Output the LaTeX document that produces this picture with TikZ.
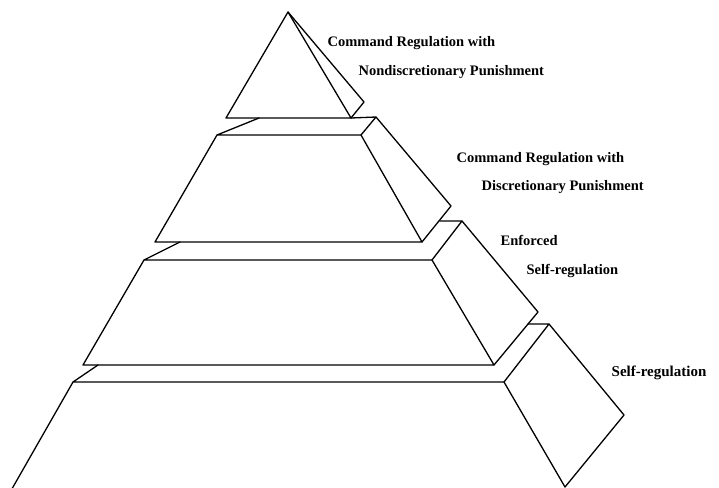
\documentclass[tikz,border=0pt]{standalone}
\usepackage{fontspec}
\setmainfont{Liberation Serif}
\begin{document}
\begin{tikzpicture}[x=1pt,y=-1pt,line cap=round,line join=round,line width=1.3pt,
	lbl/.style={anchor=base west,inner sep=0pt,font=\fontsize{14.5}{17}\selectfont\bfseries}]
		\useasboundingbox (0,0) rectangle (719,487);
		\clip (0,0) rectangle (719,487);
		% top
		\draw (288,12) -- (226,118) -- (351,118) -- cycle;
		\draw (288,12) -- (364,102) -- (351,118);
		\draw (259,118) -- (217,135) -- (361,135) -- (376,117) -- (351,118);
		% second
		\draw (217,135) -- (155,242) -- (422,242) -- (361,135);
		\draw (376,117) -- (451,206) -- (422,242);
		\draw (180,242) -- (144,260) -- (432,260) -- (462,221) -- (440,221);
		% third
		\draw (144,260) -- (83,365) -- (494,365) -- (432,260);
		\draw (462,221) -- (538,312) -- (494,365);
		\draw (98,365) -- (73,382) -- (504,382) -- (549,324) -- (528,324);
		% bottom
		\draw (73,382) -- (5,501);
		\draw (504,382) -- (565,487);
		\draw (549,324) -- (624,415) -- (565,487);
		% labels
		\node[lbl] (cmd1) at (327,47) {Command Regulation with};
		\node[lbl] (nondisc) at (358,75) {Nondiscretionary Punishment};
		\node[lbl] (cmd2) at (456,162) {Command Regulation with};
		\node[lbl] (disc) at (481,190) {Discretionary Punishment};
		\node[lbl] (enf) at (500,245) {Enforced};
		\node[lbl] (enfself) at (526,274) {Self-regulation};
		\node[lbl,font=\fontsize{15}{18}\selectfont\bfseries] (self) at (611,376) {Self-regulation};
\end{tikzpicture}
\end{document}
